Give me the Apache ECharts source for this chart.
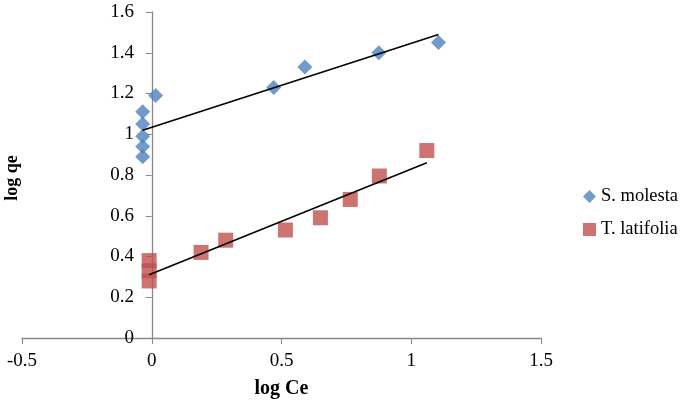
<!DOCTYPE html>
<html><head><meta charset="utf-8">
<script src="https://cdn.jsdelivr.net/npm/echarts@6/dist/echarts.min.js"></script>
<style>html,body{margin:0;padding:0;background:#fff}#c{width:685px;height:404px}</style>
</head><body><div id="c"></div>
<script>
const molestaX = [-0.035, -0.035, -0.035, -0.035, -0.035, 0.015, 0.47, 0.59, 0.875, 1.105];
const molestaY = [0.89, 0.94, 0.99, 1.05, 1.11, 1.19, 1.23, 1.33, 1.40, 1.45];
const latifoliaX = [-0.01, -0.01, -0.01, 0.19, 0.285, 0.515, 0.65, 0.765, 0.877, 1.06];
const latifoliaY = [0.28, 0.33, 0.38, 0.42, 0.48, 0.53, 0.59, 0.68, 0.795, 0.92];
const molestaTrendX = [-0.035, 1.105];
const molestaTrendY = [1.02, 1.49];
const latifoliaTrendX = [-0.01, 1.06];
const latifoliaTrendY = [0.31, 0.86];
const names = ['S. molesta', 'T. latifolia'];
const yTitle = 'log qe';

const zip = (a, b) => a.map((v, i) => [v, b[i]]);
const font = 'Liberation Serif';
const chart = echarts.init(document.getElementById('c'));
chart.setOption({
  animation: false,
  grid: {left: 22, right: 144, top: 12, bottom: 66, containLabel: false, outerBoundsMode: 'none'},
  graphic: [{
    type: 'text', x: 12, y: 178, rotation: Math.PI / 2,
    style: {text: yTitle, fontFamily: font, fontSize: 18, fontWeight: 'bold', fill: '#000',
            align: 'center', verticalAlign: 'middle'}
  }],
  legend: {
    orient: 'vertical', left: 578, top: 182, itemGap: 14, itemSymbolKeepAspect: true,
    itemWidth: 13, itemHeight: 13,
    textStyle: {fontFamily: font, fontSize: 18.5, color: '#000'},
    data: [{name: names[0], icon: 'diamond'}, {name: names[1], icon: 'rect'}]
  },
  xAxis: {
    type: 'value', min: -0.5, max: 1.5, interval: 0.5,
    name: 'log Ce', nameLocation: 'middle', nameGap: 41,
    nameTextStyle: {fontFamily: font, fontSize: 20, fontWeight: 'bold', color: '#000'},
    axisLine: {onZero: true, lineStyle: {color: '#888', width: 1.3}},
    axisTick: {show: true, length: 6, lineStyle: {color: '#888'}},
    axisLabel: {fontFamily: font, fontSize: 19, color: '#000', margin: 14},
    splitLine: {show: false}
  },
  yAxis: {
    type: 'value', min: 0, max: 1.6, interval: 0.2,
    axisLine: {show: true, onZero: true, lineStyle: {color: '#888', width: 1.3}},
    axisTick: {show: true, length: 6, lineStyle: {color: '#888'}},
    axisLabel: {fontFamily: font, fontSize: 19, color: '#000', margin: -112},
    splitLine: {show: false}
  },
  series: [
    {name: names[0], type: 'scatter', symbol: 'diamond', symbolSize: 15,
     itemStyle: {color: '#4F81BD'}, data: zip(molestaX, molestaY), z: 3},
    {name: names[1], type: 'scatter', symbol: 'rect', symbolSize: 15,
     itemStyle: {color: '#C0504D'}, data: zip(latifoliaX, latifoliaY), z: 3},
    {name: 'trend1', type: 'line', showSymbol: false, symbol: 'none', silent: true,
     lineStyle: {color: '#000', width: 1.6}, data: zip(molestaTrendX, molestaTrendY), z: 4},
    {name: 'trend2', type: 'line', showSymbol: false, symbol: 'none', silent: true,
     lineStyle: {color: '#000', width: 1.6}, data: zip(latifoliaTrendX, latifoliaTrendY), z: 4}
  ]
});
</script></body></html>
